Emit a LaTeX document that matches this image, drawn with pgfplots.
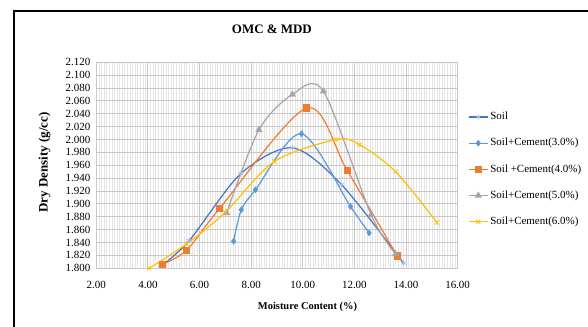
\documentclass[border=0pt]{standalone}
\usepackage{pgfplots}
\pgfplotsset{compat=1.18}
\usepackage{fontspec}
\setmainfont{Liberation Serif}
\definecolor{soilc}{HTML}{4472C4}
\definecolor{soilm}{HTML}{9DB9E6}
\definecolor{cthree}{HTML}{5B9BD5}
\definecolor{cfour}{HTML}{ED7D31}
\definecolor{cfive}{HTML}{A5A5A5}
\definecolor{csix}{HTML}{FFC000}
\begin{document}
\begin{tikzpicture}
\useasboundingbox (0bp,0bp) rectangle (588bp,327bp);
\begin{axis}[
  at={(96.3bp,58.7bp)}, anchor=south west,
  scale only axis, width=361.3bp, height=206bp,
  xmin=2, xmax=16, ymin=1.8, ymax=2.12,
  xtick={2,4,6,8,10,12,14,16},
  ytick={1.80,1.82,1.84,1.86,1.88,1.90,1.92,1.94,1.96,1.98,2.00,2.02,2.04,2.06,2.08,2.10,2.12},
  minor x tick num=19,
  xmajorgrids=true, ymajorgrids=true, xminorgrids=true,
  major grid style={color=black!22, line width=0.9bp},
  minor grid style={color=black!10, line width=0.5bp},
  axis line style={draw=black!22},
  tick style={draw=none},
  ticklabel style={font=\fontsize{11}{11}\selectfont},
  xticklabel style={/pgf/number format/.cd, fixed, fixed zerofill, precision=2, assume math mode=true, /tikz/.cd, yshift=-9bp},
  yticklabel style={/pgf/number format/.cd, fixed, fixed zerofill, precision=3, assume math mode=true, /tikz/.cd, xshift=-2.5bp},
  scaled ticks=false,
  xlabel={Moisture Content (\%)},
  ylabel={Dry Density (g/cc)},
  xlabel style={at={(axis description cs:0.5846,-0.1864)}, anchor=center, font=\bfseries\fontsize{10.5}{10.5}\selectfont},
  ylabel style={at={(axis description cs:-0.1434,0.5136)}, anchor=center, font=\bfseries\fontsize{13}{13}\selectfont},
  title={OMC \& MDD},
  title style={at={(axis description cs:0.486,1.1325)}, anchor=center, font=\bfseries\fontsize{13}{13}\selectfont},
  legend style={at={(axis description cs:1.0288,0.48)}, anchor=west, draw=none, fill=none, inner sep=0pt,
    font=\fontsize{11}{11}\selectfont, row sep=15.7bp,
    nodes={inner sep=0pt, text height=8bp, text depth=2.5bp, anchor=west},
    /tikz/every odd column/.append style={column sep=2bp}},
  legend cell align=left,
  legend image code/.code={\draw[mark repeat=2,mark phase=2] plot coordinates {(0bp,0bp) (9.5bp,0bp) (19bp,0bp)};},
  every axis plot/.append style={line width=1.2bp, smooth},
]
\addplot[color=soilc, mark=asterisk, mark size=2.5bp, mark options={color=soilm, line width=0.8bp}]
  coordinates {(4.5,1.803) (5.6,1.843) (7.6,1.947) (9.6,1.987) (11.5,1.930) (13.9,1.808)};
\addlegendentry{Soil}
\addplot[color=cthree, mark=diamond*, mark size=2.5bp, mark options={fill=cthree}]
  coordinates {(7.32,1.842) (7.62,1.891) (8.17,1.922) (9.95,2.009) (11.85,1.896) (12.57,1.855)};
\addlegendentry{Soil+Cement(3.0\%)}
\addplot[color=cfour, mark=square*, mark size=3bp, mark options={fill=cfour}]
  coordinates {(4.55,1.806) (5.5,1.828) (6.78,1.893) (10.15,2.049) (11.72,1.952) (13.66,1.819)};
\addlegendentry{Soil +Cement(4.0\%)}
\addplot[color=cfive, mark=triangle*, mark size=3bp, mark options={fill=cfive}]
  coordinates {(7.05,1.886) (8.3,2.015) (9.6,2.070) (10.8,2.075) (12.65,1.883) (13.6,1.822)};
\addlegendentry{Soil+Cement(5.0\%)}
\addplot[color=csix, mark=x, mark size=3bp, mark options={color=csix, line width=0.8bp}]
  coordinates {(4.05,1.800) (5.5,1.838) (7.0,1.887) (8.9,1.966) (11.3,2.000) (12.2,1.992) (13.6,1.950) (15.2,1.871)};
\addlegendentry{Soil+Cement(6.0\%)}
\end{axis}
\draw[line width=2bp] (13.5bp,-5bp) -- (13.5bp,315.5bp) -- (600bp,315.5bp);
\end{tikzpicture}
\end{document}
